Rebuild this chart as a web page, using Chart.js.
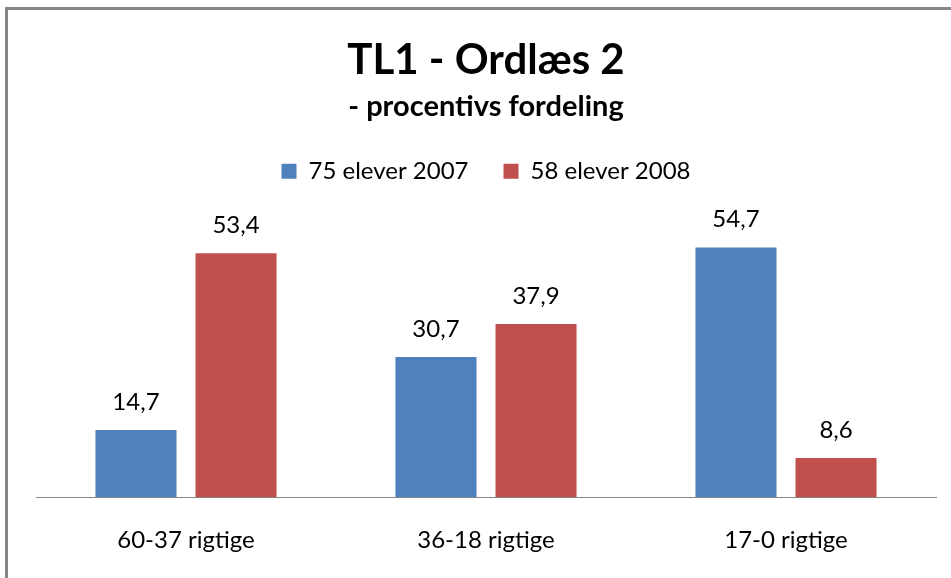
<!DOCTYPE html>
<html>
<head>
<meta charset="utf-8">
<script src="https://cdn.jsdelivr.net/npm/chart.js@4"></script>
<style>
  html, body { margin: 0; padding: 0; background: #fff; }
  #wrap { width: 951px; height: 578px; }
</style>
</head>
<body>
<div id="wrap"><canvas id="chart" width="951" height="578"></canvas></div>
<script>
// Data
const categories = ['60-37 rigtige', '36-18 rigtige', '17-0 rigtige'];
const seriesNames = ['75 elever 2007', '58 elever 2008'];
const values2007 = [14.7, 30.7, 54.7];
const values2008 = [53.4, 37.9, 8.6];

const colors = {
  blue: '#4F81BD',
  red: '#C0504D',
  border: '#868686',
  text: '#000000'
};

const fontFamily = 'Lato, "Open Sans", sans-serif';

// Outer frame like the spreadsheet chart box
const framePlugin = {
  id: 'frame',
  beforeDraw(chart) {
    const ctx = chart.ctx;
    ctx.save();
    ctx.fillStyle = '#fff';
    ctx.fillRect(0, 0, chart.width, chart.height);
    ctx.strokeStyle = colors.border;
    ctx.lineWidth = 3;
    ctx.strokeRect(6.5, 8.5, chart.width + 20, chart.height + 20);
    ctx.restore();
  }
};

// Extra room between legend and plot area
const legendSpacer = {
  id: 'legendSpacer',
  beforeInit(chart) {
    const origFit = chart.legend.fit;
    chart.legend.fit = function() {
      origFit.bind(chart.legend)();
      this.height += 30;
    };
  }
};

// Value labels above bars
const valueLabels = {
  id: 'valueLabels',
  afterDatasetsDraw(chart) {
    const ctx = chart.ctx;
    ctx.save();
    ctx.font = '24px ' + fontFamily;
    ctx.fillStyle = colors.text;
    ctx.textAlign = 'center';
    ctx.textBaseline = 'alphabetic';
    chart.data.datasets.forEach((ds, i) => {
      chart.getDatasetMeta(i).data.forEach((bar, j) => {
        const txt = ds.data[j].toFixed(1).replace('.', ',');
        ctx.fillText(txt, bar.x, bar.y - 20);
      });
    });
    ctx.restore();
  }
};

const ctx = document.getElementById('chart').getContext('2d');
const chart = new Chart(ctx, {
  type: 'bar',
  data: {
    labels: categories,
    datasets: [{
      label: seriesNames[0],
      data: values2007,
      backgroundColor: colors.blue
    }, {
      label: seriesNames[1],
      data: values2008,
      backgroundColor: colors.red
    }]
  },
  options: {
    responsive: false,
    animation: false,
    categoryPercentage: 0.667,
    barPercentage: 0.81,
    layout: {
      padding: { top: 14, left: 36, right: 15, bottom: 2 }
    },
    plugins: {
      title: {
        display: true,
        text: 'TL1 - Ordlæs 2',
        color: colors.text,
        font: { family: fontFamily, size: 42, weight: 'bold' },
        padding: { top: 21, bottom: 0 }
      },
      subtitle: {
        display: true,
        text: '- procentivs fordeling',
        color: colors.text,
        font: { family: fontFamily, size: 29, weight: 'bold' },
        padding: { top: 4, bottom: 0 }
      },
      legend: {
        position: 'top',
        labels: {
          color: colors.text,
          boxWidth: 15,
          boxHeight: 15,
          padding: 35,
          font: { family: fontFamily, size: 24 }
        }
      },
      tooltip: { enabled: false }
    },
    scales: {
      x: {
        grid: { display: false },
        border: { color: colors.border, width: 1 },
        ticks: {
          color: colors.text,
          padding: 21,
          font: { family: fontFamily, size: 24 }
        }
      },
      y: {
        display: false,
        min: 0,
        max: 60
      }
    }
  },
  plugins: [framePlugin, legendSpacer, valueLabels]
});
</script>
</body>
</html>
